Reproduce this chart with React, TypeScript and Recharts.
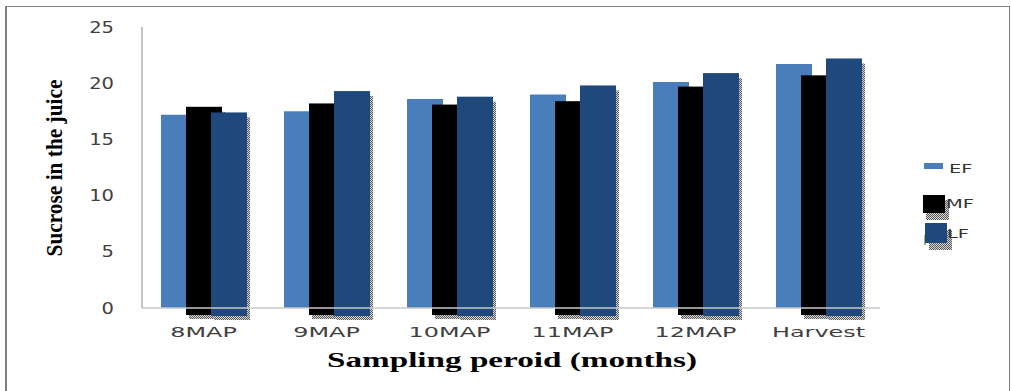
import React from 'react'
import { BarChart, Bar, XAxis, YAxis, Label } from 'recharts'

// sampling periods and sucrose values
const categories = ['8MAP', '9MAP', '10MAP', '11MAP', '12MAP', 'Harvest']
const efValues = [17.2, 17.5, 18.6, 19.0, 20.1, 21.7]
const mfValues = [17.9, 18.2, 18.1, 18.4, 19.7, 20.7]
const lfValues = [17.4, 19.3, 18.8, 19.8, 20.9, 22.2]
const yTicks = [0, 5, 10, 15, 20, 25]
const seriesNames = ['EF', 'MF', 'LF']

const EF_COLOR = '#4a7ebb'
const MF_COLOR = '#000000'
const LF_COLOR = '#1f497d'

const data = categories.map((c, i) => ({
  name: c,
  EF: efValues[i],
  MF: mfValues[i],
  LF: lfValues[i],
}))

// bar with the hatched drop shadow, running a little below the axis like the original
const shadowBar = (extend: number) => (props: any) => {
  const { x, y, width, height, fill } = props
  return (
    <g>
      <rect x={x + 3} y={y + 5} width={width} height={height + extend - 1} fill="url(#hatch)" />
      <rect x={x} y={y} width={width} height={height + extend} fill={fill} />
    </g>
  )
}

const XTick = (props: any) => {
  const { x, payload } = props
  return (
    <text transform={`translate(${x},337) scale(1.65,1)`} textAnchor="middle"
      fontFamily="DejaVu Sans" fontSize={14.5} fill="#404040">
      {payload.value}
    </text>
  )
}

const YTick = (props: any) => {
  const { y, payload } = props
  return (
    <text transform={`translate(114,${y + 5.5}) scale(1.3,1)`} textAnchor="end"
      fontFamily="DejaVu Sans" fontSize={15} fill="#404040">
      {payload.value}
    </text>
  )
}

const xLabel = () => (
  <text x={512} y={367} textAnchor="middle" fontFamily="Liberation Serif" fontWeight="bold"
    fontSize={22} fill="#000" textLength={370} lengthAdjust="spacingAndGlyphs">
    Sampling peroid (months)
  </text>
)

// condensed look of the original: big glyphs squeezed into the measured length
const yLabel = () => (
  <text transform="translate(62,168) rotate(-90)" textAnchor="middle" fontFamily="Liberation Serif"
    fontWeight="bold" fontSize={24} fill="#000" textLength={177} lengthAdjust="spacingAndGlyphs">
    Sucrose in the juice
  </text>
)

const legendText = (x: number, y: number, t: string) => (
  <text transform={`translate(${x},${y}) scale(1.5,1)`} fontFamily="DejaVu Sans" fontSize={13} fill="#333">
    {t}
  </text>
)

const ChartLegend = () => (
  <svg width={100} height={110} style={{ position: 'absolute', left: 900, top: 150 }}>
    <defs>
      <pattern id="hatch" width="2" height="2" patternUnits="userSpaceOnUse">
        <rect width="2" height="2" fill="#d4d4d4" />
        <rect width="1" height="1" fill="#5a5a5a" />
        <rect x="1" y="1" width="1" height="1" fill="#5a5a5a" />
      </pattern>
    </defs>
    <rect x={24} y={13} width={19} height={6} fill={EF_COLOR} />
    {legendText(49, 23, seriesNames[0])}
    <rect x={26} y={50} width={23} height={20} fill="url(#hatch)" />
    <rect x={23} y={45} width={22} height={18} fill={MF_COLOR} />
    {legendText(46, 58, seriesNames[1])}
    <rect x={29} y={80} width={23} height={20} fill="url(#hatch)" />
    <rect x={24} y={85} width={2} height={10} fill="#9bbb59" />
    <rect x={25} y={73} width={22} height={20} fill={LF_COLOR} />
    {legendText(47, 88, seriesNames[2])}
  </svg>
)

export default function App() {
  return (
    <div style={{ position: 'absolute', left: 0, top: 0, width: 1011, height: 391, overflow: 'hidden', background: '#fff' }}>
      <BarChart width={1011} height={391} data={data}
        margin={{ top: 27, right: 131, bottom: 0, left: 0 }}
        barSize={36} barGap={-11} barCategoryGap={0}>
        <XAxis dataKey="name" height={83} axisLine={{ stroke: '#c8c8c8', strokeWidth: 1.5 }} tickLine={false}
          tick={<XTick />} interval={0}>
          <Label content={xLabel} />
        </XAxis>
        <YAxis width={142} domain={[0, 25]} ticks={yTicks} axisLine={{ stroke: '#8a8a8a' }} tickLine={false}
          tick={<YTick />}>
          <Label content={yLabel} />
        </YAxis>
        <Bar dataKey="EF" fill={EF_COLOR} isAnimationActive={false} />
        <Bar dataKey="MF" fill={MF_COLOR} shape={shadowBar(7)} isAnimationActive={false} />
        <Bar dataKey="LF" fill={LF_COLOR} shape={shadowBar(8)} isAnimationActive={false} />
      </BarChart>
      <ChartLegend />
      <div style={{ position: 'absolute', left: 5, top: 6, width: 1002, height: 500, borderLeft: '2px solid #7f7f7f',
        borderTop: '1px solid #7f7f7f', borderRight: '1px solid #7f7f7f', pointerEvents: 'none' }} />
    </div>
  )
}
